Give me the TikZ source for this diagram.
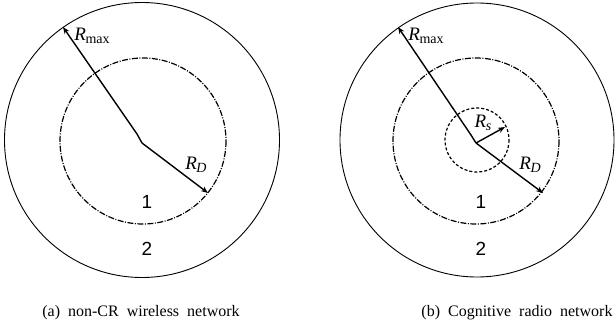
\documentclass[tikz,border=0pt]{standalone}
\usepackage{fontspec}
\setmainfont{Liberation Serif}
\newfontfamily\arialfont{Liberation Sans}
\usetikzlibrary{arrows.meta}
\newcommand{\rlab}[1]{\textit{R}\kern-0.5pt\raisebox{-0.35ex}{\fontsize{14}{14}\selectfont #1}}
\tikzset{
  outer/.style={line width=0.9pt},
  ddot/.style={line width=1.2pt, dash pattern=on 6pt off 1.5pt on 1pt off 1.5pt},
  sdash/.style={line width=1.2pt, dash pattern=on 3pt off 2pt},
  radius arrow/.style={line width=1.4pt, -{Stealth[length=7pt,width=5.5pt]}},
  rlabel/.style={font=\fontsize{19}{19}\selectfont, inner sep=0pt},
  zlabel/.style={font=\arialfont\fontsize{19}{19}\selectfont, inner sep=0pt},
  caption/.style={font=\fontsize{16}{16}\selectfont, inner sep=0pt}
}
\begin{document}
\begin{tikzpicture}[x=1pt,y=-1pt]
\useasboundingbox (0,0) rectangle (616,329);
% ---------- (a) ----------
\draw[outer] (142,140) circle[radius=137.5];
\draw[ddot] (143,141) circle[radius=83];
\coordinate (oa) at (142,143);
\coordinate (ka) at (137,134);
\coordinate (ma) at (63,27);
\coordinate (da) at (208,193);
\draw[radius arrow] (oa) -- (ka) -- (ma);
\draw[radius arrow] (oa) -- (da);
\node[rlabel] (rmaxa) at (92,36) {\rlab{max}};
\node[rlabel] (rda) at (196,165) {\rlab{\textit{D}}};
\node[zlabel] (one-a) at (147,202) {1};
\node[zlabel] (two-a) at (147,249) {2};
\node[caption] (capa) at (141,313) {(a)\ \ non-CR\ \ wireless\ \ network};
% ---------- (b) ----------
\draw[outer] (477,140) circle[radius=137];
\draw[ddot] (476,141) circle[radius=83];
\draw[sdash] (477,140) circle[radius=32];
\coordinate (ob) at (476,143);
\coordinate (kb) at (471,135);
\coordinate (mb) at (398,27);
\coordinate (sb) at (505,127);
\coordinate (db) at (543,193);
\draw[radius arrow] (ob) -- (kb) -- (mb);
\draw[radius arrow] (ob) -- (sb);
\draw[radius arrow] (ob) -- (db);
\node[rlabel] (rmaxb) at (426,36) {\rlab{max}};
\node[rlabel] (rsb) at (483,123) {\rlab{\textit{s}}};
\node[rlabel] (rdb) at (530,165) {\rlab{\textit{D}}};
\node[zlabel] (one-b) at (481,202) {1};
\node[zlabel] (two-b) at (481,249) {2};
\node[caption] (capb) at (517,313) {(b)\ \ Cognitive\ \ radio\ \ network};
\end{tikzpicture}
\end{document}
